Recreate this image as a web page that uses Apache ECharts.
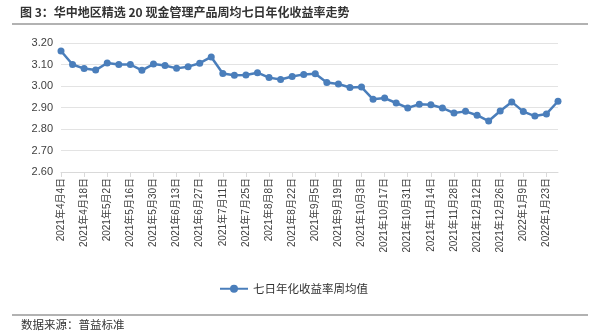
<!DOCTYPE html>
<html>
<head>
<meta charset="utf-8">
<script src="https://cdn.jsdelivr.net/npm/echarts@6/dist/echarts.min.js"></script>
<style>
  html, body { margin: 0; padding: 0; background: #fff; }
  #chart { width: 592px; height: 336px; }
</style>
</head>
<body>
<div id="chart"></div>
<script>
// Weekly dates (every Sunday), 2021-04-04 to 2022-01-30
const categories = [
  '2021年4月4日', '2021年4月11日', '2021年4月18日', '2021年4月25日',
  '2021年5月2日', '2021年5月9日', '2021年5月16日', '2021年5月23日',
  '2021年5月30日', '2021年6月6日', '2021年6月13日', '2021年6月20日',
  '2021年6月27日', '2021年7月4日', '2021年7月11日', '2021年7月18日',
  '2021年7月25日', '2021年8月1日', '2021年8月8日', '2021年8月15日',
  '2021年8月22日', '2021年8月29日', '2021年9月5日', '2021年9月12日',
  '2021年9月19日', '2021年9月26日', '2021年10月3日', '2021年10月10日',
  '2021年10月17日', '2021年10月24日', '2021年10月31日', '2021年11月7日',
  '2021年11月14日', '2021年11月21日', '2021年11月28日', '2021年12月5日',
  '2021年12月12日', '2021年12月19日', '2021年12月26日', '2022年1月2日',
  '2022年1月9日', '2022年1月16日', '2022年1月23日', '2022年1月30日'
];

// Weekly average of the 7-day annualized yield (%)
const weeklyYield = [
  3.163, 3.100, 3.081, 3.074, 3.107, 3.100, 3.100, 3.073,
  3.102, 3.095, 3.082, 3.090, 3.106, 3.135, 3.058, 3.050,
  3.051, 3.062, 3.039, 3.030, 3.044, 3.054, 3.057, 3.016,
  3.009, 2.993, 2.995, 2.938, 2.944, 2.921, 2.898, 2.915,
  2.913, 2.898, 2.874, 2.882, 2.864, 2.837, 2.884, 2.926,
  2.881, 2.860, 2.870, 2.929
];

const seriesName = '七日年化收益率周均值';
const titleText = '图 3：华中地区精选 20 现金管理产品周均七日年化收益率走势';
const sourceText = '数据来源：普益标准';
const yMin = 2.6, yMax = 3.2, yStep = 0.1;

const FONT = '"Liberation Sans", "Noto Sans CJK SC", sans-serif';

const chart = echarts.init(document.getElementById('chart'));
chart.setOption({
  animation: false,
  backgroundColor: '#ffffff',
  grid: { left: 61, right: 34, top: 43, bottom: 164 },
  graphic: [
    {
      type: 'text', left: 20, top: 6,
      style: { text: titleText, font: 'bold 12px "Noto Sans CJK SC", sans-serif', fill: '#333333' }
    },
    {
      type: 'line', shape: { x1: 12, y1: 24, x2: 588, y2: 24 },
      style: { stroke: '#666666', lineWidth: 1.2 }
    },
    {
      type: 'line', shape: { x1: 12, y1: 315, x2: 588, y2: 315 },
      style: { stroke: '#666666', lineWidth: 1.2 }
    },
    {
      type: 'text', left: 21, top: 319,
      style: { text: sourceText, font: '11.5px "Noto Sans CJK SC", sans-serif', fill: '#333333' }
    }
  ],
  legend: {
    data: [seriesName],
    left: 214, top: 278,
    itemWidth: 28, itemHeight: 10, itemGap: 6,
    textStyle: { fontFamily: '"Noto Sans CJK SC", sans-serif', fontSize: 11.5, color: '#333333' }
  },
  xAxis: {
    type: 'category',
    data: categories,
    boundaryGap: false,
    axisLine: { lineStyle: { color: '#d9d9d9', width: 1 } },
    axisTick: { show: true, interval: 1, length: 5, lineStyle: { color: '#d9d9d9' } },
    axisLabel: {
      interval: 1, rotate: 90, margin: 6,
      fontFamily: FONT, fontSize: 10, color: '#404040'
    }
  },
  yAxis: {
    type: 'value',
    min: yMin, max: yMax, interval: yStep,
    axisLine: { show: false },
    axisTick: { show: false },
    splitLine: { lineStyle: { color: '#e3e3e3', width: 1 } },
    axisLabel: {
      margin: 8,
      fontFamily: FONT, fontSize: 11, color: '#404040',
      formatter: v => v.toFixed(2)
    }
  },
  series: [{
    name: seriesName,
    type: 'line',
    data: weeklyYield,
    symbol: 'circle',
    symbolSize: 7,
    lineStyle: { color: '#4a7ebb', width: 2.5 },
    itemStyle: { color: '#4a7ebb' }
  }]
});
</script>
</body>
</html>
